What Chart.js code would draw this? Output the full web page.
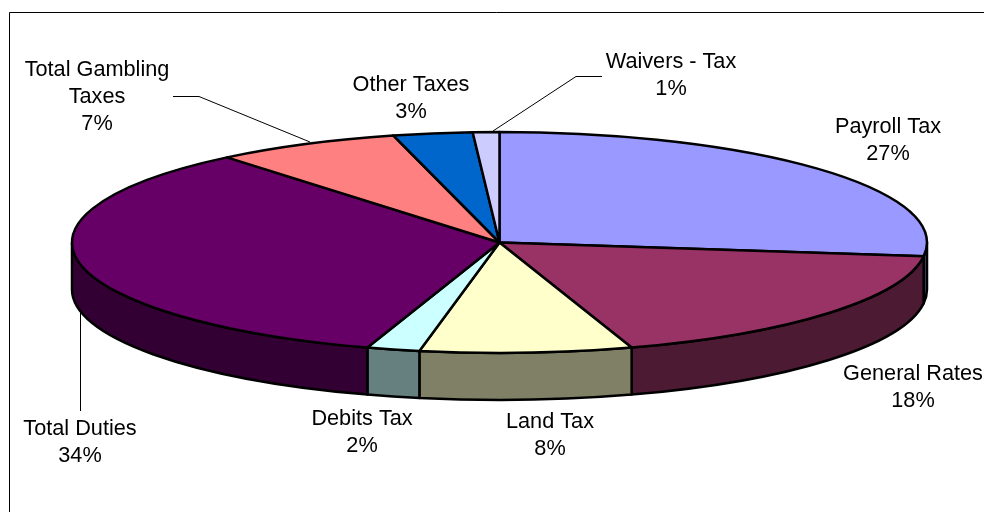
<!DOCTYPE html>
<html>
<head>
<meta charset="utf-8">
<title>Tax revenue</title>
<script src="https://cdn.jsdelivr.net/npm/chart.js@4"></script>
<style>
  html, body { margin: 0; padding: 0; background: #fff; }
  canvas { display: block; }
</style>
</head>
<body>
<canvas id="grafica" width="984" height="512"></canvas>
<script>
// Categories and shares of total revenue, clockwise from 12 o'clock
const categories = ['Payroll Tax', 'General Rates', 'Land Tax', 'Debits Tax', 'Total Duties', 'Total Gambling Taxes', 'Other Taxes', 'Waivers - Tax'];
const shares = [27, 18, 8, 2, 34, 7, 3, 1];

const topColors = ['#9999FF', '#993366', '#FFFFCC', '#CCFFFF', '#660066', '#FF8080', '#0066CC', '#CCCCFF'];
const sideColors = ['#4D4D80', '#4D1A33', '#808066', '#668080', '#330033', '#804040', '#003366', '#666680'];

// Flattened disc: on-screen radii and wall height
const RX = 427.5;
const RY = 110.5;
const DEPTH = 47;

const FONT = '21.7px "Liberation Sans", Arial, sans-serif';
const LINE_HEIGHT = 27;

// Where each label block is centred, first line baseline-middle
const labelSpots = [
  { x: 888, y: 127 },
  { x: 913, y: 374 },
  { x: 550, y: 422 },
  { x: 362, y: 419 },
  { x: 80, y: 429 },
  { x: 97, y: 70, lines: ['Total Gambling', 'Taxes'] },
  { x: 411, y: 85 },
  { x: 671, y: 62 }
];

const leaderLines = [
  [[173, 96.5], [199, 96.5], [310, 142]],
  [[602, 76.5], [576, 76.5], [493, 131]],
  [[80.5, 313], [80.5, 411]]
];

// Top face of one slice, as an elliptical wedge
function traceTop(ctx, arc) {
  ctx.beginPath();
  ctx.moveTo(arc.x, arc.y);
  ctx.ellipse(arc.x, arc.y, RX, RY, 0, arc.startAngle, arc.endAngle);
  ctx.closePath();
}

// Front wall of one slice, only the part facing the viewer (0 to PI on canvas)
function drawSide(ctx, arc, color) {
  const from = Math.max(arc.startAngle, 0);
  const to = Math.min(arc.endAngle, Math.PI);
  if (from >= to) return;
  ctx.beginPath();
  ctx.ellipse(arc.x, arc.y, RX, RY, 0, from, to);
  ctx.ellipse(arc.x, arc.y + DEPTH, RX, RY, 0, to, from, true);
  ctx.closePath();
  ctx.fillStyle = color;
  ctx.fill();
  ctx.stroke();
}

const pie3d = {
  id: 'pie3d',
  beforeDraw(chart) {
    const ctx = chart.ctx;
    ctx.save();
    ctx.fillStyle = '#fff';
    ctx.fillRect(0, 0, chart.width, chart.height);
    // Chart frame: only the top and left edges fall inside the page
    ctx.strokeStyle = '#000';
    ctx.lineWidth = 1;
    ctx.beginPath();
    ctx.moveTo(9.5, chart.height);
    ctx.lineTo(9.5, 12.5);
    ctx.lineTo(chart.width, 12.5);
    ctx.stroke();
    ctx.restore();
  },
  // Replaces the flat arcs; angles and centre still come from the arc elements
  beforeDatasetDraw(chart, args) {
    const ctx = chart.ctx;
    const arcs = args.meta.data;
    ctx.save();
    ctx.strokeStyle = '#000';
    ctx.lineWidth = 2.5;
    ctx.lineJoin = 'round';
    arcs.forEach((arc, i) => drawSide(ctx, arc, sideColors[i]));
    arcs.forEach((arc, i) => {
      traceTop(ctx, arc);
      ctx.fillStyle = topColors[i];
      ctx.fill();
      ctx.stroke();
    });
    ctx.restore();
    return false;
  },
  afterDraw(chart) {
    const ctx = chart.ctx;
    ctx.save();
    ctx.strokeStyle = '#000';
    ctx.lineWidth = 1;
    leaderLines.forEach(points => {
      ctx.beginPath();
      points.forEach(([x, y], i) => (i ? ctx.lineTo(x, y) : ctx.moveTo(x, y)));
      ctx.stroke();
    });
    ctx.fillStyle = '#000';
    ctx.font = FONT;
    ctx.textAlign = 'center';
    ctx.textBaseline = 'middle';
    categories.forEach((name, i) => {
      const spot = labelSpots[i];
      const lines = [...(spot.lines || [name]), `${shares[i]}%`];
      lines.forEach((line, n) => ctx.fillText(line, spot.x, spot.y + n * LINE_HEIGHT));
    });
    ctx.restore();
  }
};

new Chart(document.getElementById('grafica'), {
  type: 'pie',
  data: {
    labels: categories,
    datasets: [{
      data: shares,
      backgroundColor: topColors,
      borderColor: '#000'
    }]
  },
  options: {
    responsive: false,
    animation: false,
    // Puts the pie centre at (499.5, 242.5)
    layout: { padding: { left: 15, bottom: 27 } },
    plugins: {
      legend: { display: false },
      tooltip: { enabled: false }
    }
  },
  plugins: [pie3d]
});
</script>
</body>
</html>
